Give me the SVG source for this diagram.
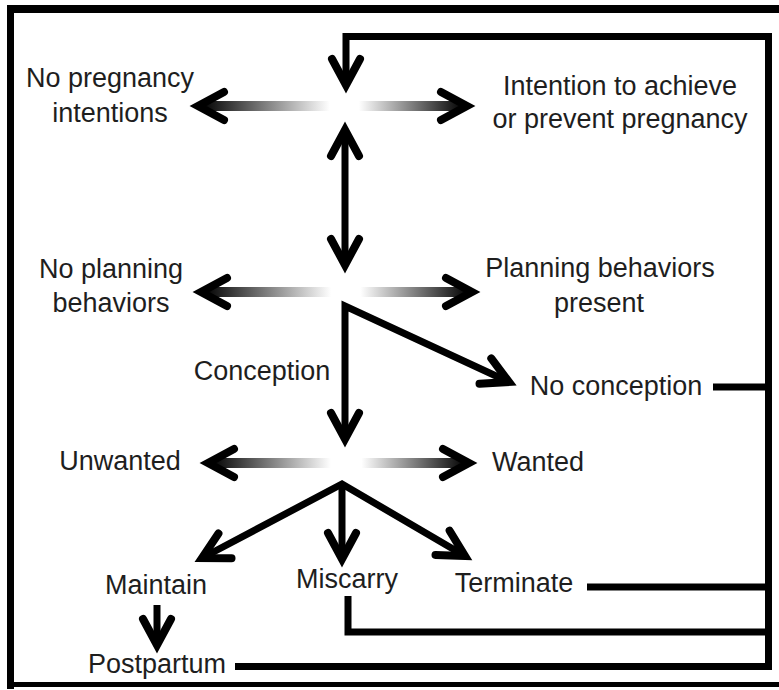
<svg xmlns="http://www.w3.org/2000/svg" width="779" height="690" viewBox="0 0 779 690">
<style>
text{font-family:"Liberation Sans",Arial,sans-serif;font-size:27px;fill:#1e1e1e;text-anchor:middle}
.ln{fill:none;stroke:#000;stroke-width:7;stroke-linejoin:miter}
.ar{marker-end:url(#ah)}
.da{marker-start:url(#ah);marker-end:url(#ah)}
.hd{fill:none;stroke:none}
</style>
<defs>
<marker id="ah" viewBox="-40 -20 50 40" refX="0" refY="0" markerWidth="50" markerHeight="40" markerUnits="userSpaceOnUse" orient="auto-start-reverse" overflow="visible">
<path d="M-26,-14 L0,0 L-26,14" fill="none" stroke="#000" stroke-width="8" stroke-linecap="round" stroke-linejoin="miter"/>
</marker>
<linearGradient id="g1" gradientUnits="userSpaceOnUse" x1="201" y1="0" x2="464" y2="0">
<stop offset="0" stop-color="#000"/><stop offset="0.49" stop-color="#fff"/><stop offset="0.6" stop-color="#fff"/><stop offset="1" stop-color="#000"/>
</linearGradient>
<linearGradient id="g2" gradientUnits="userSpaceOnUse" x1="204" y1="0" x2="469" y2="0">
<stop offset="0" stop-color="#000"/><stop offset="0.48" stop-color="#fff"/><stop offset="0.59" stop-color="#fff"/><stop offset="1" stop-color="#000"/>
</linearGradient>
<linearGradient id="g3" gradientUnits="userSpaceOnUse" x1="211" y1="0" x2="466" y2="0">
<stop offset="0" stop-color="#000"/><stop offset="0.47" stop-color="#fff"/><stop offset="0.59" stop-color="#fff"/><stop offset="1" stop-color="#000"/>
</linearGradient>
</defs>
<rect width="779" height="690" fill="#fff"/>
<g id="frame">
<rect x="7" y="5" width="772" height="8" fill="#000"/>
<rect x="7" y="5" width="7" height="684" fill="#000"/>
<rect x="7" y="682" width="772" height="5" fill="#000"/>
</g>
<g id="connectors">
<rect x="201" y="101" width="263" height="10" fill="url(#g1)"/>
<path class="hd da" d="M198,106 H467"/>
<rect x="204" y="287" width="265" height="10" fill="url(#g2)"/>
<path class="hd da" d="M201,292 H472"/>
<rect x="211" y="458" width="255" height="10" fill="url(#g3)"/>
<path class="hd da" d="M208,463 H469"/>
<path class="ln ar" d="M235,666.5 H768.5 V36.5 H346 V85"/>
<path class="ln da" d="M345,130 V265"/>
<path class="ln da" d="M345,439 V306 L509,382"/>
<path class="ln da" d="M202,558 L342,484 L465,556"/>
<path class="ln ar" d="M342,484 V559"/>
<path class="ln ar" d="M157,605 V645"/>
<path class="ln" d="M713,387 H768"/>
<path class="ln" d="M587,587 H768"/>
<path class="ln" d="M348,596 V632 H768"/>
</g>
<g id="n-no-intent"><text x="110" y="87">No pregnancy</text><text x="110" y="122">intentions</text></g>
<g id="n-intent"><text x="620" y="95">Intention to achieve</text><text x="620" y="128">or prevent pregnancy</text></g>
<g id="n-no-plan"><text x="111" y="278">No planning</text><text x="111" y="312">behaviors</text></g>
<g id="n-plan"><text x="600" y="277">Planning behaviors</text><text x="599" y="312">present</text></g>
<g id="n-conception"><text x="262" y="380">Conception</text></g>
<g id="n-no-conception"><text x="616" y="395">No conception</text></g>
<g id="n-unwanted"><text x="120" y="470">Unwanted</text></g>
<g id="n-wanted"><text x="538" y="471">Wanted</text></g>
<g id="n-maintain"><text x="156" y="594">Maintain</text></g>
<g id="n-miscarry"><text x="347" y="588">Miscarry</text></g>
<g id="n-terminate"><text x="514" y="592">Terminate</text></g>
<g id="n-postpartum"><text x="157" y="673">Postpartum</text></g>
</svg>
